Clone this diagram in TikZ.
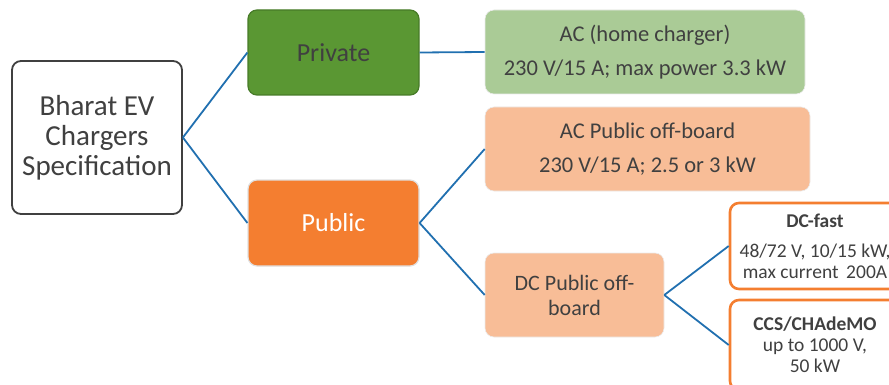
\documentclass[tikz,border=0pt]{standalone}
\usepackage{fontspec}
\setmainfont{Carlito}
\definecolor{txt}{HTML}{404040}
\definecolor{link}{HTML}{2170B0}
\definecolor{grdark}{HTML}{5A9733}
\definecolor{grline}{HTML}{477B28}
\definecolor{grlight}{HTML}{AACB96}
\definecolor{orng}{HTML}{F47E30}
\definecolor{salmon}{HTML}{F8BD97}
\tikzset{
  every node/.style={text=txt, align=center, inner sep=0pt},
  base/.style={rounded corners=9pt},
  rootbox/.style={base, draw=txt, line width=1.8pt, fill=white, minimum width=170pt, minimum height=153pt, font=\fontsize{29}{30}\selectfont},
  privbox/.style={base, draw=grline, line width=1.2pt, fill=grdark, minimum width=171pt, minimum height=85pt, font=\fontsize{26}{28}\selectfont},
  pubbox/.style={base, draw=black!12, line width=1.2pt, fill=orng, text=white, minimum width=171pt, minimum height=86pt, font=\fontsize{26}{28}\selectfont},
  greenbox/.style={base, draw=black!8, line width=0.6pt, fill=grlight, minimum height=84pt, font=\fontsize{22.5}{26}\selectfont},
  salmonbox/.style={base, draw=black!8, line width=0.6pt, fill=salmon, minimum height=84pt, font=\fontsize{22.5}{26}\selectfont},
  dcbox/.style={base, draw=orng, line width=2.6pt, fill=white, minimum width=170pt, font=\fontsize{19.5}{21}\selectfont},
  link/.style={draw=link, line width=1.8pt}
}
\begin{document}
\begin{tikzpicture}[x=1pt, y=-1pt]
  \useasboundingbox (0,0) rectangle (889,385);
  \clip (0,0) rectangle (889,385);

  % level 0
  \node[rootbox] (root) at (97,137.5) {Bharat EV\\Chargers\\Specification};

  % level 1
  \node[privbox] (priv) at (333.5,52.5) {Private};
  \node[pubbox]  (pub)  at (333.5,223) {Public};

  % level 2
  \node[greenbox, minimum width=320pt] (achome) at (645,52)
    {AC (home charger)\\[8pt]230 V/15 A; max power 3.3 kW};
  \node[salmonbox, minimum width=325pt] (acpub) at (647.5,149)
    {AC Public off-board\\[8pt]230 V/15 A; 2.5 or 3 kW};
  \node[salmonbox, minimum width=179pt, font=\fontsize{22}{25}\selectfont] (dcpub) at (574.5,295)
    {DC Public off-\\board};

  % level 3
  \node[dcbox, minimum height=86pt] (dcfast) at (815,246)
    {\textbf{DC-fast}\\[9pt]48/72 V, 10/15 kW,\\max current\ \,200A};
  \node[dcbox, minimum height=90pt] (ccs) at (815,345)
    {\textbf{CCS/CHAdeMO}\\up to 1000 V,\\50 kW};

  % connectors
  \draw[link] (root.east) -- (priv.west);
  \draw[link] (root.east) -- (pub.west);
  \draw[link] (priv.east) -- (achome.west);
  \draw[link] (pub.east) -- (acpub.west);
  \draw[link] (pub.east) -- (dcpub.west);
  \draw[link] (dcpub.east) -- (dcfast.west);
  \draw[link] (dcpub.east) -- (ccs.west);
\end{tikzpicture}
\end{document}
